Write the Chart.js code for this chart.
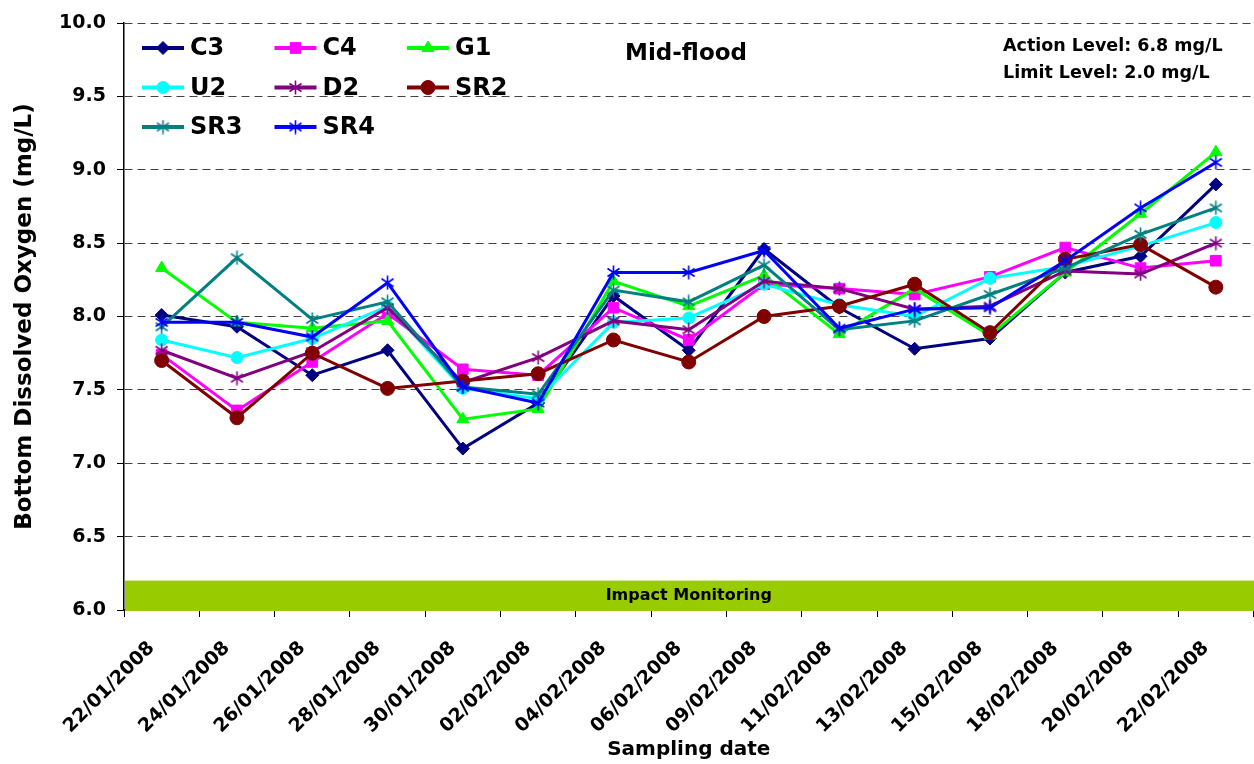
<!DOCTYPE html>
<html>
<head>
<meta charset="utf-8">
<title>Bottom Dissolved Oxygen - Mid-flood</title>
<script src="https://cdn.jsdelivr.net/npm/chart.js@4/dist/chart.umd.min.js"></script>
<style>
  html, body { margin: 0; padding: 0; overflow: hidden; background: #fff; }
</style>
</head>
<body>
<canvas id="myChart" width="1262" height="764"></canvas>
<script>
// sampling dates (x categories)
const dates = [
    "22/01/2008", "24/01/2008", "26/01/2008", "28/01/2008", "30/01/2008",
    "02/02/2008", "04/02/2008", "06/02/2008", "09/02/2008", "11/02/2008",
    "13/02/2008", "15/02/2008", "18/02/2008", "20/02/2008", "22/02/2008",
];

// bottom DO per station, mg/L
const c3  = [8.01, 7.93, 7.60, 7.77, 7.10, 7.41, 8.14, 7.77, 8.46, 8.06, 7.78, 7.85, 8.30, 8.41, 8.90];
const c4  = [7.74, 7.36, 7.69, 8.02, 7.64, 7.60, 8.06, 7.84, 8.22, 8.19, 8.15, 8.27, 8.47, 8.33, 8.38];
const g1  = [8.33, 7.96, 7.92, 7.97, 7.30, 7.37, 8.24, 8.07, 8.28, 7.88, 8.19, 7.87, 8.30, 8.70, 9.12];
const u2  = [7.84, 7.72, 7.85, 8.07, 7.51, 7.44, 7.96, 7.99, 8.22, 8.08, 8.00, 8.26, 8.34, 8.48, 8.64];
const d2  = [7.77, 7.58, 7.76, 8.06, 7.55, 7.72, 7.97, 7.91, 8.24, 8.19, 8.05, 8.07, 8.31, 8.29, 8.50];
const sr2 = [7.70, 7.31, 7.75, 7.51, 7.56, 7.61, 7.84, 7.69, 8.00, 8.07, 8.22, 7.89, 8.39, 8.49, 8.20];
const sr3 = [7.93, 8.40, 7.98, 8.10, 7.52, 7.47, 8.18, 8.10, 8.35, 7.91, 7.97, 8.15, 8.33, 8.56, 8.74];
const sr4 = [7.96, 7.96, 7.86, 8.23, 7.52, 7.41, 8.30, 8.30, 8.45, 7.92, 8.05, 8.06, 8.38, 8.74, 9.05];

// y axis range and the monitoring band
const yMin = 6.0;
const yMax = 10.0;
const yStep = 0.5;
const band = [6.0, 6.2];
const bandLabel = "Impact Monitoring";
const chartTitle = "Mid-flood";
const notes = ["Action Level: 6.8 mg/L", "Limit Level: 2.0 mg/L"];

const FONT = '"DejaVu Sans", "Liberation Sans", Arial, sans-serif';

// excel style asterisk marker
function asterisk(color) {
    const c = document.createElement("canvas");
    c.width = 15;
    c.height = 15;
    const g = c.getContext("2d");
    g.strokeStyle = color;
    g.lineWidth = 1.6;
    g.beginPath();
    g.moveTo(7.5, 0.5); g.lineTo(7.5, 14.5);
    g.moveTo(1.5, 3.5); g.lineTo(13.5, 11.5);
    g.moveTo(1.5, 11.5); g.lineTo(13.5, 3.5);
    g.stroke();
    return c;
}

function series(label, data, color, style, radius) {
    return {
        label: label,
        data: data,
        borderColor: color,
        backgroundColor: color,
        pointBackgroundColor: color,
        pointBorderColor: color,
        pointBorderWidth: 1,
        pointStyle: style,
        pointRadius: radius,
        borderWidth: 3,
        tension: 0,
        fill: false,
    };
}

const datasets = [
    series("C3", c3, "#000080", "rectRot", 6.5),
    series("C4", c4, "#FF00FF", "rect", 7.5),
    series("G1", g1, "#00FF00", "triangle", 7),
    series("U2", u2, "#00FFFF", "circle", 6),
    series("D2", d2, "#800080", asterisk("#800080"), 7),
    series("SR2", sr2, "#800000", "circle", 7),
    series("SR3", sr3, "#008080", asterisk("#008080"), 7),
    series("SR4", sr4, "#0000FF", asterisk("#0000FF"), 7),
];
// later series drawn on top, like excel
datasets.forEach((ds, i) => { ds.order = datasets.length - i; });

const bandPlugin = {
    id: "band",
    beforeDatasetsDraw(chart) {
        const { ctx, chartArea } = chart;
        const y = chart.scales.y;
        const top = y.getPixelForValue(band[1]);
        const bottom = y.getPixelForValue(band[0]);
        ctx.save();
        ctx.fillStyle = "#99CC00";
        ctx.fillRect(chartArea.left + 1, top, chartArea.right - chartArea.left, bottom - top + 1);
        ctx.fillStyle = "#000";
        ctx.font = "bold 16px " + FONT;
        ctx.textAlign = "center";
        ctx.textBaseline = "middle";
        ctx.fillText(bandLabel, (chartArea.left + chartArea.right) / 2, (top + bottom) / 2 + 1);
        ctx.restore();
    },
};

const textPlugin = {
    id: "texts",
    afterDatasetsDraw(chart) {
        const { ctx, chartArea } = chart;
        ctx.save();
        ctx.fillStyle = "#000";
        ctx.textBaseline = "middle";

        ctx.textAlign = "center";
        ctx.font = "bold 23px " + FONT;
        ctx.fillText(chartTitle, 686, 54);

        ctx.textAlign = "left";
        ctx.font = "bold 17.5px " + FONT;
        ctx.fillText(notes[0], 1003, 46);
        ctx.fillText(notes[1], 1003, 73);

        // legend inside the plot, 3 columns
        chart.data.datasets.forEach((ds, i) => {
            const col = i % 3;
            const row = Math.floor(i / 3);
            const x = chartArea.left + 18 + col * 132.5;
            const y = chartArea.top + 25 + row * 39.5;
            ctx.strokeStyle = ds.borderColor;
            ctx.lineWidth = 4;
            ctx.beginPath();
            ctx.moveTo(x, y);
            ctx.lineTo(x + 42, y);
            ctx.stroke();
            ctx.fillStyle = ds.pointBackgroundColor;
            ctx.strokeStyle = ds.pointBorderColor;
            ctx.lineWidth = 1;
            Chart.helpers.drawPoint(ctx, {
                pointStyle: ds.pointStyle,
                radius: ds.pointRadius,
                rotation: 0,
                borderWidth: 1,
            }, x + 21, y);
            ctx.fillStyle = "#000";
            ctx.font = "bold 24px " + FONT;
            ctx.textAlign = "left";
            ctx.fillText(ds.label, x + 48, y + 1);
        });
        ctx.restore();
    },
};

const config = {
    type: "line",
    data: {
        labels: dates,
        datasets: datasets,
    },
    options: {
        responsive: false,
        animation: false,
        events: [],
        layout: {
            padding: { top: 23, right: 1, left: 0, bottom: 0 },
        },
        plugins: {
            legend: { display: false },
            tooltip: { enabled: false },
        },
        scales: {
            x: {
                type: "category",
                offset: true,
                grid: {
                    offset: true,
                    drawOnChartArea: false,
                    drawTicks: true,
                    tickLength: 7,
                    tickColor: "#000",
                },
                border: { color: "#000", width: 1.5 },
                ticks: {
                    color: "#000",
                    font: { family: FONT, size: 19, weight: "bold" },
                    maxRotation: 45,
                    minRotation: 45,
                    autoSkip: false,
                    padding: 20,
                    labelOffset: -10,
                },
                title: {
                    display: true,
                    text: "Sampling date",
                    color: "#000",
                    font: { family: FONT, size: 20, weight: "bold" },
                    padding: { top: 0, bottom: 2 },
                },
                afterFit(scale) { scale.height = 154; },
            },
            y: {
                min: yMin,
                max: yMax,
                grid: {
                    color: "#404040",
                    lineWidth: 1,
                    tickLength: 7,
                    tickColor: "#000",
                },
                border: { color: "#000", width: 1.5, dash: [8, 5] },
                ticks: {
                    stepSize: yStep,
                    color: "#000",
                    font: { family: FONT, size: 19, weight: "bold" },
                    padding: 11,
                    callback: (v) => Number(v).toFixed(1),
                },
                title: {
                    display: true,
                    text: "Bottom Dissolved Oxygen (mg/L)",
                    color: "#000",
                    font: { family: FONT, size: 23, weight: "bold" },
                    padding: { top: 11, bottom: 0 },
                },
                afterFit(scale) { scale.width = 124; },
            },
        },
    },
    plugins: [bandPlugin, textPlugin],
};

const ctx = document.getElementById("myChart").getContext("2d");
const myChart = new Chart(ctx, config);
</script>
</body>
</html>
